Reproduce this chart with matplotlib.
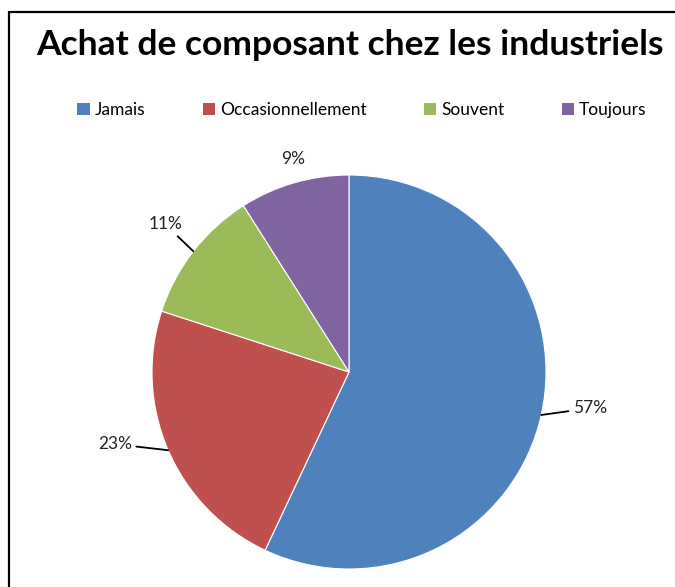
import numpy as np
import matplotlib
matplotlib.use("Agg")
import matplotlib.pyplot as plt
from matplotlib.patches import Rectangle, Patch

categories = ["Jamais", "Occasionnellement", "Souvent", "Toujours"]
values = [57, 23, 11, 9]
labels = ["57%", "23%", "11%", "9%"]
title = "Achat de composant chez les industriels"

colors = ["#4F81BD", "#C0504D", "#9BBB59", "#8064A2"]
# label placement: (radius, angle offset in degrees, ha, leader line?)
label_style = [(1.15, 3.4, "left", True),
               (1.16, -5.0, "right", True),
               (1.13, -3.7, "right", True),
               (1.12, -1.5, "center", False)]

plt.rcParams['font.family'] = ['Lato', 'DejaVu Sans']

W, H = 675, 587
fig = plt.figure(figsize=(W / 100, H / 100), dpi=100)
fig.patch.set_facecolor("white")

# border (left and top visible)
fig.add_artist(Rectangle((9 / W, -0.1), 1.2, (H - 12) / H + 0.1,
                         transform=fig.transFigure, fill=False,
                         edgecolor="black", lw=1.6))

cx, cy, r = 349, 372, 197
ax = fig.add_axes([(cx - r) / W, (H - cy - r) / H, 2 * r / W, 2 * r / H])
wedges, _ = ax.pie(values, colors=colors, startangle=90, counterclock=False,
                   radius=1.0, wedgeprops=dict(linewidth=0.8, edgecolor="white"))
ax.set_xlim(-1, 1)
ax.set_ylim(-1, 1)
ax.set_aspect("equal")
ax.axis("off")

for w, lab, (rad, doff, ha, line) in zip(wedges, labels, label_style):
    mid = np.deg2rad((w.theta1 + w.theta2) / 2)
    ex, ey = np.cos(mid), np.sin(mid)
    tang = mid + np.deg2rad(doff)
    tx, ty = rad * np.cos(tang), rad * np.sin(tang)
    if line:
        ax.annotate(lab, xy=(ex, ey), xytext=(tx, ty), ha=ha, va="center",
                    fontsize=12.5, color="#222222", annotation_clip=False,
                    arrowprops=dict(arrowstyle="-", color="black", lw=1.3,
                                    shrinkA=1, shrinkB=0))
    else:
        ax.text(tx, ty, lab, ha=ha, va="center", fontsize=12.5, color="#222222",
                clip_on=False)

fig.text(350 / W, 1 - 45 / H, title, ha="center", va="center",
         fontsize=25.5, fontweight="bold", color="black")

handles = [Patch(facecolor=c, edgecolor="none") for c in colors]
fig.legend(handles, categories, loc="center", bbox_to_anchor=(362 / W, 1 - 110 / H),
           ncol=4, frameon=False, fontsize=12.5, handlelength=0.7, handleheight=0.7,
           handletextpad=0.3, columnspacing=3.3)

fig.savefig("out.png", dpi=100, facecolor="white")
